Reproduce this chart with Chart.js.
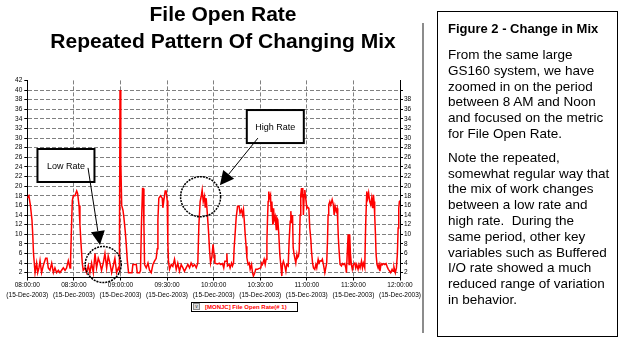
<!DOCTYPE html>
<html>
<head>
<meta charset="utf-8">
<script src="https://cdn.jsdelivr.net/npm/chart.js@4.4.0/dist/chart.umd.min.js"></script>
<style>
body { margin:0; width:620px; height:339px; overflow:hidden; position:relative; background:#fff; font-family:"Liberation Sans", Arial, sans-serif; }
#chart-wrap { position:absolute; left:0; top:0; width:446px; height:339px; }
#shadow { position:absolute; left:422px; top:23px; width:2px; height:310px; background:#8c8c8c; }
#legend { position:absolute; left:191px; top:302px; width:107px; height:10px; box-sizing:border-box; border:1px solid #000; background:#fff; white-space:nowrap; }
#legend .box { position:absolute; left:1px; top:0px; width:7px; height:7px; box-sizing:border-box; border:1px solid #888; background:#ddd; font-size:5px; line-height:5px; text-align:center; color:#333; }
#legend .txt { position:absolute; left:13px; top:0px; font-size:6px; line-height:8px; font-weight:bold; color:#f00; }
#note { position:absolute; left:437px; top:11px; width:181px; height:326px; box-sizing:border-box; border:1px solid #000; padding:0 0 0 10px; white-space:nowrap; color:#000; }
#note h4 { margin:9px 0 0 0; font-size:13px; line-height:16px; font-weight:bold; }
#note p { margin:10px 0 0 0; font-size:13.5px; line-height:15.8px; }
#note p + p { margin-top:8px; }
</style>
</head>
<body>
<div id="chart-wrap"><canvas id="rate-chart" width="446" height="339"></canvas></div>
<div id="shadow"></div>
<div id="legend"><span class="box">v</span><span class="txt">[MONJC] File Open Rate(# 1)</span></div>
<div id="note">
<h4>Figure 2 - Change in Mix</h4>
<p>From the same large<br>GS160 system, we have<br>zoomed in on the period<br>between 8 AM and Noon<br>and focused on the metric<br>for File Open Rate.</p>
<p>Note the repeated,<br>somewhat regular way that<br>the mix of work changes<br>between a low rate and<br>high rate.&nbsp; During the<br>same period, other key<br>variables such as Buffered<br>I/O rate showed a much<br>reduced range of variation<br>in behavior.</p>
</div>
<script>
// time axis: minutes after 08:00
const timeLabels = ['08:00:00','08:30:00','09:00:00','09:30:00','10:00:00','10:30:00','11:00:00','11:30:00','12:00:00'];
const dateLabel = '(15-Dec-2003)';
const tickMinutes = [0, 30, 60, 90, 120, 150, 180, 210, 240];
const leftTicks = [2,4,6,8,10,12,14,16,18,20,22,24,26,28,30,32,34,36,38,40,42];
const rightTicks = [2,4,6,8,10,12,14,16,18,20,22,24,26,28,30,32,34,36,38,40];

const minutes = [
  0,1,2,3,3.5,4,5,6,6.7,7.5,8.2,9.2,10.3,11.8,12.7,13.5,14.6,15.7,16.8,17.8,18.9,20,21,22.1,23.2,24.3,25.3,26.4,27.5,27.9,
  28.6,29,29.6,30.7,31.8,32.4,33.3,33.9,34.6,35.4,36,37.1,38.2,39.3,40.3,41.4,42.5,43.6,44.6,45.7,46.8,47.8,48.9,50,51.1,52.1,
  53.2,54.3,55.4,56.4,57.5,58.6,59.3,59.7,60.2,
  60.8,61.6,62.2,63.1,63.7,64.4,65.2,67.4,68,70.2,70.8,72.3,72.9,73.5,74.2,74.6,75.1,75.5,76.6,77.7,78.7,79.8,80.9,81.9,83,
  83.7,84.1,84.7,85.8,86.9,87.3,87.9,88.8,89.4,90.1,90.5,90.9,91.6,92.7,93.7,94.8,95.9,96.9,98,99.1,100.2,101.2,102.3,103.4,
  104.5,105.5,106.6,107.7,108.8,109.8,110.5,111.3,112,112.6,113.3,114.1,114.6,115.2,115.8,116.7,117.4,118,118.9,119.6,120.3,120.8,
  121.4,122.5,123.6,124.6,125.7,126.5,127.2,128,128.5,128.9,130,130.6,131.5,132.1,132.8,133.2,133.8,134.5,135.4,136.4,137,137.9,
  138.6,139.2,139.6,140.3,140.9,141.4,142.2,142.9,143.5,144.4,145,145.6,146.5,147.1,148.2,149.3,150.4,150.8,151.4,152.5,153.2,
  153.8,154.3,154.7,155.1,155.5,155.9,156.6,157,157.5,158.1,158.6,159,159.6,160.3,160.7,161.3,161.9,162.6,163.2,163.9,164.3,
  164.9,165.8,166.5,167.1,168,168.6,169.3,169.7,170.2,170.8,171.2,171.8,172.9,173.6,174,174.6,175.1,175.7,176.1,176.6,177,177.4,
  177.8,178.3,
  178.7,179.3,180,180.6,181.3,181.9,182.6,183,183.7,184.3,185.1,185.8,186.4,187.3,187.9,188.6,189.4,190,190.7,191.6,192.2,192.8,
  193.3,193.7,194.1,194.8,195.4,196.3,197.1,197.6,198.2,198.9,199.5,199.9,200.3,200.8,201.4,202.3,202.9,203.6,204.4,205.1,205.5,
  205.9,206.6,207.2,207.6,208.1,208.7,209.3,210,210.9,211.5,212.1,213,213.6,214.3,215.2,215.8,216.4,217.3,217.9,218.6,219.2,219.8,
  220.5,221.2,221.8,222.5,222.9,223.3,223.7,224.2,224.6,225.2,225.9,226.5,227.1,227.8,228.4,229.3,230.2,231,231.9,232.5,233.4,
  234,234.9,235.5,236.1,237,237.7,238.3,238.8,239.2,239.6,240
];
const fileOpenRate = [
  17.5,18,16,13,10,6,2,4,2,3,4.5,2,3.5,5,5,3,2.5,4,2,3,2,2.5,2,2.5,3,2.5,3,4.5,3,5,
  13,17,18,18,19,18.5,16,12,8,4,2.5,3,2,3.5,2,4,2,6,3,5,4,2.5,4,6,3,5.5,
  4,2,3.5,5,2,3,2.5,40,25,
  16,15,13.5,10.5,8,4.5,2,2,3.7,3.7,2,2,2.5,12,19.5,19.5,12,3.7,3,4,2.5,2,3.7,4.4,5,
  7,13,17.5,18,17.5,15.5,17,19,19,17,8.5,4.4,2.7,3.7,3.3,4.8,2.7,4,2.3,3.7,3,2.3,3,3.7,
  3,4,3.3,3.7,3,4,12,16.8,17.9,19.2,16.8,17.9,15.5,17.5,14.8,10.6,6.5,4,5.4,7.9,5.8,4,
  3.9,3.8,4,3.7,3.9,3,4.4,4.4,6,3.4,3.7,3,4,3.4,4,7.2,10,13.4,15.8,15.8,14.4,15.1,
  14,15.1,13.4,10,7.5,5.1,3.7,4,2.7,3.7,2,1.3,2,2.7,2.7,2.9,3,4,3.7,4.8,3.7,
  4.8,8.6,13.4,16.8,18.9,17.5,18.2,14.8,16.8,12,15.4,13,13.7,11,13.4,13,10.3,5.8,3.7,1.3,3.7,
  4.4,3.4,2.3,3.7,3.4,8.6,12.7,14.8,12.3,14,7.2,5.8,4,5.8,5.1,5.4,6.5,14,18.2,19.6,17.8,19.6,
  14,18.2,
  19.2,17.5,15.4,15.6,15.4,11.3,8.9,6.5,4,3,2.7,3.7,3,4.8,4,4.5,4.4,4.8,3.7,2,3,4,
  8.6,14,16.1,16.8,16.1,17.2,16.1,14,15.8,14.8,15.4,12.7,9.2,6.5,3.7,3.4,3.9,3.7,3.9,3,2,
  5.1,10,3.7,10,5.8,3.7,2.7,3.7,4,3,3.7,2.7,3.7,3,4.4,3,4,3,12,18.9,17.5,18.6,
  16.8,16.1,17.5,15.4,18.2,16.8,14,10,5.8,3.7,3,3.7,2.3,3.9,3.7,3.9,3.7,3.9,3.1,2.7,2.3,
  2,2.7,2.3,3.2,2,3,5.8,11.3,15.4,16.8,17
];

// call-out boxes, placed in data units (minutes, rate)
const callouts = [
  {text: 'Low Rate', at: [24.9, 24.3], from: [39.1, 23.8], tip: [46.8, 7.75], ring: [48.9, 3.7], r: 18},
  {text: 'High Rate', at: [159.7, 32.4], from: [148.5, 30.0], tip: [124, 20.2], ring: [111.6, 17.8], r: 20}
];

const tickFont = {family: '"Liberation Sans", Arial, sans-serif', size: 6.5};

const calloutPlugin = {
  id: 'callouts',
  afterDatasetsDraw(chart) {
    const ctx = chart.ctx;
    const xs = chart.scales.x, ys = chart.scales.y;
    const px = p => [xs.getPixelForValue(p[0]), ys.getPixelForValue(p[1])];
    ctx.save();
    callouts.forEach(c => {
      // dotted ring
      const [cx, cy] = px(c.ring);
      ctx.beginPath();
      ctx.setLineDash([2, 1]);
      ctx.lineWidth = 1.5;
      ctx.strokeStyle = '#000';
      ctx.arc(cx, cy, c.r, 0, Math.PI * 2);
      ctx.stroke();
      ctx.setLineDash([]);
      // box
      const [bx, by] = px(c.at);
      const w = 57, h = 33;
      ctx.fillStyle = '#fff';
      ctx.fillRect(bx - w / 2, by - h / 2, w, h);
      ctx.lineWidth = 2;
      ctx.strokeRect(bx - w / 2, by - h / 2, w, h);
      ctx.fillStyle = '#000';
      ctx.font = '9px "Liberation Sans", Arial, sans-serif';
      ctx.textAlign = 'center';
      ctx.textBaseline = 'middle';
      ctx.fillText(c.text, bx, by + 1);
      // arrow
      const [sx, sy] = px(c.from);
      const [tx, ty] = px(c.tip);
      const len = Math.hypot(tx - sx, ty - sy);
      const ux = (tx - sx) / len, uy = (ty - sy) / len;
      const hl = 14, hw = 7;
      const hx = tx - ux * hl, hy = ty - uy * hl;
      ctx.lineWidth = 1;
      ctx.beginPath();
      ctx.moveTo(sx, sy);
      ctx.lineTo(hx, hy);
      ctx.stroke();
      ctx.beginPath();
      ctx.moveTo(tx, ty);
      ctx.lineTo(hx - uy * hw, hy + ux * hw);
      ctx.lineTo(hx + uy * hw, hy - ux * hw);
      ctx.closePath();
      ctx.fill();
    });
    ctx.restore();
  }
};

const rateChart = new Chart(document.getElementById('rate-chart').getContext('2d'), {
  type: 'line',
  data: {
    datasets: [{
      label: '[MONJC] File Open Rate(# 1)',
      data: minutes.map((m, i) => ({x: m, y: fileOpenRate[i]})),
      borderColor: '#ff0000',
      borderWidth: 1.5,
      pointRadius: 0,
      tension: 0,
      fill: false
    }]
  },
  options: {
    responsive: false,
    animation: false,
    devicePixelRatio: 1,
    events: [],
    layout: {padding: 0},
    plugins: {
      legend: {display: false},
      tooltip: {enabled: false},
      title: {
        display: true,
        text: ['File Open Rate', 'Repeated Pattern Of Changing Mix'],
        color: '#000',
        font: {family: '"Liberation Sans", Arial, sans-serif', size: 21, weight: 'bold', lineHeight: 1.25},
        padding: {top: 2.5, bottom: 25.4}
      }
    },
    scales: {
      x: {
        type: 'linear',
        min: 0,
        max: 240,
        afterBuildTicks: s => { s.ticks = tickMinutes.map(v => ({value: v})); },
        afterFit: s => { s.height = 61.5; },
        grid: {color: '#808080', tickColor: '#000', tickLength: 3, lineWidth: 1},
        border: {color: '#000', width: 1, dash: [4, 2]},
        ticks: {
          autoSkip: false,
          maxRotation: 0,
          padding: 0,
          color: '#000',
          font: Object.assign({lineHeight: 1.54}, tickFont),
          callback: v => [timeLabels[tickMinutes.indexOf(v)], dateLabel]
        }
      },
      y: {
        position: 'left',
        min: 1,
        max: 42,
        afterBuildTicks: s => { s.ticks = leftTicks.map(v => ({value: v})); },
        afterFit: s => { s.width = 27.3; },
        grid: {
          color: c => c.tick && c.tick.value === 42 ? 'rgba(0,0,0,0)' : '#808080',
          tickColor: '#000', tickLength: 3
        },
        border: {color: '#000', width: 1, dash: [4, 2]},
        ticks: {autoSkip: false, padding: 2, color: '#000', font: tickFont}
      },
      y2: {
        position: 'right',
        min: 1,
        max: 42,
        afterBuildTicks: s => { s.ticks = rightTicks.map(v => ({value: v})); },
        afterFit: s => { s.width = 46; },
        grid: {drawOnChartArea: false, tickColor: '#000', tickLength: 3},
        border: {color: '#000', width: 1},
        ticks: {autoSkip: false, padding: 1, color: '#000', font: tickFont, callback: v => v === 40 ? '' : v}
      }
    }
  },
  plugins: [calloutPlugin]
});
</script>
</body>
</html>
